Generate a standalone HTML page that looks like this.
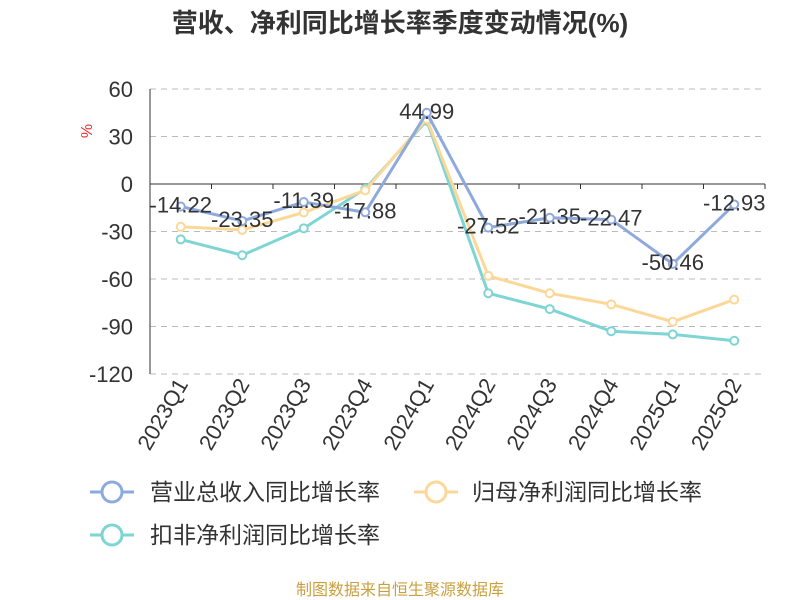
<!DOCTYPE html>
<html><head><meta charset="utf-8"><style>
body{margin:0;background:#fff;}
svg{display:block;font-family:"Liberation Sans","Noto Sans CJK SC",sans-serif;}
</style></head><body>
<svg id="chart" width="800" height="600">
<text x="400" y="32" text-anchor="middle" font-size="26" font-weight="bold" fill="#333">营收、净利同比增长率季度变动情况(%)</text>
<text x="92" y="131" font-size="16" fill="#e03030" transform="rotate(-90 92 131)" text-anchor="middle">%</text>
<g id="grid"></g><g id="series"></g>
<g>
 <g><line x1="90" y1="492" x2="134" y2="492" stroke="#8eaadc" stroke-width="3"/><circle cx="112" cy="492" r="10" fill="#fff" stroke="#8eaadc" stroke-width="3"/><text x="150" y="500" font-size="23" fill="#333">营业总收入同比增长率</text></g>
 <g><line x1="414" y1="492" x2="458" y2="492" stroke="#fbd898" stroke-width="3"/><circle cx="436" cy="492" r="10" fill="#fff" stroke="#fbd898" stroke-width="3"/><text x="472" y="500" font-size="23" fill="#333">归母净利润同比增长率</text></g>
 <g><line x1="90" y1="535" x2="134" y2="535" stroke="#7fd4d4" stroke-width="3"/><circle cx="112" cy="535" r="10" fill="#fff" stroke="#7fd4d4" stroke-width="3"/><text x="150" y="543" font-size="23" fill="#333">扣非净利润同比增长率</text></g>
</g>
<text x="400" y="595" text-anchor="middle" font-size="16" fill="#c8a040">制图数据来自恒生聚源数据库</text>
</svg>
<script>
const categories=["2023Q1","2023Q2","2023Q3","2023Q4","2024Q1","2024Q2","2024Q3","2024Q4","2025Q1","2025Q2"];
const revenue=[-14.22,-23.35,-11.39,-17.88,44.99,-27.52,-21.35,-22.47,-50.46,-12.93];
const netProfit=[-27,-29,-18,-4,41,-58,-69,-76,-87,-73];
const deductedProfit=[-35,-45,-28,-3,40,-69,-79,-93,-95,-99];
const yTicks=[60,30,0,-30,-60,-90,-120];
const NS="http://www.w3.org/2000/svg";
const X0=150,X1=765,Y0=89,Y1=374,VMAX=60,VMIN=-120;
const bw=(X1-X0)/categories.length;
const xs=i=>X0+bw*(i+0.5);
const ys=v=>Y0+(VMAX-v)/(VMAX-VMIN)*(Y1-Y0);
function mk(t,a,p){const e=document.createElementNS(NS,t);for(const k in a)e.setAttribute(k,a[k]);p.appendChild(e);return e;}
const grid=document.getElementById('grid');
yTicks.forEach(v=>{
 if(v!==0){const l=mk('line',{x1:X0,x2:X1,y1:ys(v),y2:ys(v),stroke:'#bbb','stroke-dasharray':'6,5'},grid);
 
 }
 const t=mk('text',{x:133,y:ys(v)+8,'text-anchor':'end','font-size':22,fill:'#333'},grid);
 t.textContent=v;
 
 
});
const ya=mk('line',{x1:X0,x2:X0,y1:Y0,y2:Y1,stroke:'#333'},grid);


const xa=mk('line',{x1:X0,x2:X1,y1:ys(0),y2:ys(0),stroke:'#333'},grid);


for(let i=0;i<=categories.length;i++){mk('line',{x1:X0+bw*i,x2:X0+bw*i,y1:ys(0),y2:ys(0)+5,stroke:'#333'},grid);}
categories.forEach((c,i)=>{
 const x=xs(i)+8,y=Y1+10;
 const t=mk('text',{x:x,y:y,'text-anchor':'end','font-size':22,fill:'#333',transform:`rotate(-60 ${x} ${y})`},grid);
 t.textContent=c;
 
 
});
const sg=document.getElementById('series');
function draw(vals,color,name,labels){
 const g=mk('g',{},sg);
 
 
 const p=mk('polyline',{points:vals.map((v,i)=>xs(i)+','+ys(v)).join(' '),fill:'none',stroke:color,'stroke-width':3},g);
 
 
 vals.forEach((v,i)=>{
  const c=mk('circle',{cx:xs(i),cy:ys(v),r:4,fill:'#fff',stroke:color,'stroke-width':2},g);
  
  
 });
 if(labels){vals.forEach((v,i)=>{const t=mk('text',{x:xs(i),y:ys(v)+6,'text-anchor':'middle','font-size':22,fill:'#333'},g);
   t.textContent=v.toFixed(2);
   
   });}
}
draw(deductedProfit,'#7fd4d4','deducted-profit-series',false);
draw(netProfit,'#fbd898','net-profit-series',false);
draw(revenue,'#8eaadc','revenue-series',true);
</script>
</body></html>
